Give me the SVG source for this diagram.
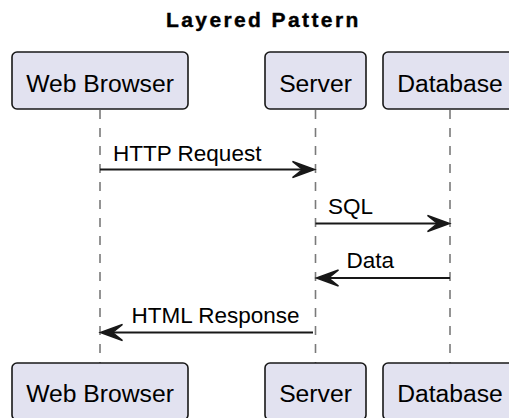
<svg xmlns="http://www.w3.org/2000/svg" width="509" height="418" viewBox="0 0 509 418">
  <style>
    .heading { font-family: "Liberation Sans", Arial, sans-serif; font-weight: bold; fill: #000; }
    .box { fill: #E2E2F0; stroke: #181818; stroke-width: 1.6; }
    .plabel { font-family: "Liberation Sans", Arial, sans-serif; font-size: 24.7px; fill: #000; text-anchor: middle; }
    .life { stroke: #7a7a7a; stroke-width: 1.6; stroke-dasharray: 9 9; fill: none; }
    .msg { stroke: #181818; stroke-width: 2; fill: none; }
    .head { fill: #181818; stroke: #181818; stroke-width: 1.5; stroke-linejoin: miter; }
    .mlabel { font-family: "Liberation Sans", Arial, sans-serif; font-size: 22.5px; fill: #000; }
  </style>

  <text class="heading" x="166" y="27" font-size="21" letter-spacing="2.4" stroke="#000" stroke-width="0.4">Layered Pattern</text>

  <!-- lifelines -->
  <g id="lifelines">
    <line class="life" x1="100" y1="110" x2="100" y2="363"/>
    <line class="life" x1="315.5" y1="110" x2="315.5" y2="363"/>
    <line class="life" x1="450" y1="110" x2="450" y2="363"/>
  </g>

  <g id="web-browser">
    <rect class="box" x="12" y="52" width="176" height="57" rx="5"/>
    <text class="plabel" x="100" y="91.5">Web Browser</text>
    <rect class="box" x="12" y="363" width="176" height="57" rx="5"/>
    <text class="plabel" x="100" y="401.5">Web Browser</text>
  </g>

  <g id="server">
    <rect class="box" x="265" y="52" width="101" height="57" rx="5"/>
    <text class="plabel" x="315.5" y="91.5">Server</text>
    <rect class="box" x="265" y="363" width="101" height="57" rx="5"/>
    <text class="plabel" x="315.5" y="401.5">Server</text>
  </g>

  <g id="database">
    <rect class="box" x="383" y="52" width="134" height="57" rx="5"/>
    <text class="plabel" x="450" y="91.5">Database</text>
    <rect class="box" x="383" y="363" width="134" height="57" rx="5"/>
    <text class="plabel" x="450" y="401.5">Database</text>
  </g>

  <g id="connectors">
    <!-- HTTP Request: browser to server -->
    <line class="msg" x1="100" y1="169.5" x2="306" y2="169.5"/>
    <polygon class="head" points="292.5,161.5 314.5,169.5 292.5,177.5 302.5,169.5"/>
    <text class="mlabel" x="113" y="160.5">HTTP Request</text>

    <!-- SQL: server to database -->
    <line class="msg" x1="315.5" y1="223.5" x2="441" y2="223.5"/>
    <polygon class="head" points="427.5,215.5 449.5,223.5 427.5,231.5 437.5,223.5"/>
    <text class="mlabel" x="328" y="214">SQL</text>

    <!-- Data: database back to server -->
    <line class="msg" x1="450" y1="278" x2="325" y2="278"/>
    <polygon class="head" points="338.5,270 316.5,278 338.5,286 328.5,278"/>
    <text class="mlabel" x="346.5" y="268">Data</text>

    <!-- HTML Response: server back to browser -->
    <line class="msg" x1="313" y1="332.5" x2="109" y2="332.5"/>
    <polygon class="head" points="122.5,324.5 100.5,332.5 122.5,340.5 112.5,332.5"/>
    <text class="mlabel" x="131.5" y="322.5">HTML Response</text>
  </g>
</svg>
